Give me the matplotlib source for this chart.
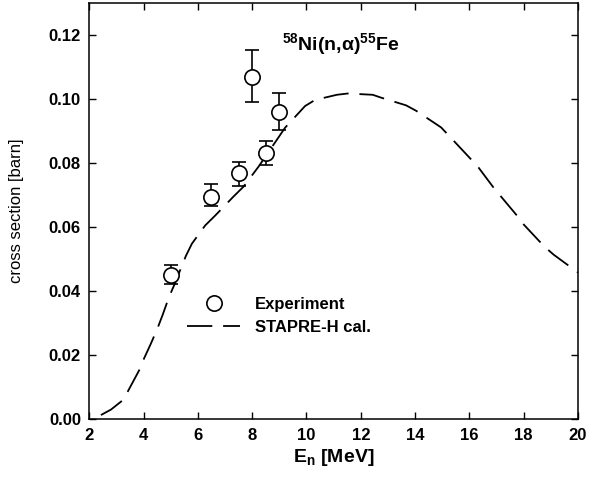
import matplotlib
matplotlib.use('Agg')
import matplotlib.pyplot as plt
from matplotlib.lines import Line2D
import numpy as np

plt.rcParams['font.family'] = ['Liberation Sans', 'DejaVu Sans']
plt.rcParams['mathtext.default'] = 'regular'

# experimental points
exp_e = [5.0, 6.5, 7.5, 8.0, 8.5, 9.0]
exp_xs = [0.0451, 0.0695, 0.0768, 0.1070, 0.0830, 0.0960]
exp_lo = [0.0422, 0.0665, 0.0728, 0.0991, 0.0794, 0.0903]
exp_hi = [0.0482, 0.0733, 0.0804, 0.1154, 0.0869, 0.1018]

# STAPRE-H calculation
calc_e = [2.43, 2.8, 3.23, 3.41, 3.84, 4.02, 4.27, 4.51, 4.70, 4.94, 5.13, 5.56,
          5.78, 6.27, 6.64, 7.31, 7.68, 8.23, 8.97, 9.21, 9.95, 10.32, 11.12,
          11.52, 12.44, 12.75, 13.67, 14.04, 14.96, 15.26, 16.0, 16.3, 16.9,
          17.77, 18.0, 18.75, 19.1, 20.0]
calc_xs = [0.0013, 0.0030, 0.0059, 0.0085, 0.0153, 0.0190, 0.0236, 0.0283, 0.0325,
           0.0382, 0.0419, 0.0510, 0.0548, 0.0605, 0.0636, 0.0695, 0.0726, 0.0788,
           0.0880, 0.0910, 0.0978, 0.0997, 0.1013, 0.1017, 0.1013, 0.1004, 0.0980,
           0.0963, 0.0911, 0.0884, 0.0817, 0.0790, 0.0722, 0.0634, 0.0608, 0.0540,
           0.0514, 0.0458]

fig = plt.figure(figsize=(5.91, 4.78), dpi=100)
ax = fig.add_axes([0.151, 0.123, 0.827, 0.871])

yerr = [np.array(exp_xs) - np.array(exp_lo), np.array(exp_hi) - np.array(exp_xs)]
ax.errorbar(exp_e, exp_xs, yerr=yerr, fmt='o', ms=11, mfc='white', mec='black',
            mew=1.2, ecolor='black', elinewidth=1.2, capsize=5, capthick=1.2,
            zorder=3)
ax.plot(calc_e, calc_xs, color='black', lw=1.3, dashes=(14, 6), zorder=2)

ax.set_xlim(2, 20)
ax.set_ylim(0, 0.13)
ax.set_xticks(np.arange(2, 21, 2))
ax.set_yticks(np.arange(0, 0.121, 0.02))
ax.set_yticklabels([f'{v:.2f}' for v in np.arange(0, 0.121, 0.02)])
ax.tick_params(direction='in', length=5, width=1, top=True, right=True,
               labelsize=12, pad=6)
for lab in ax.get_xticklabels() + ax.get_yticklabels():
    lab.set_fontweight('bold')
for s in ax.spines.values():
    s.set_linewidth(1.1)

ax.set_xlabel('E$_n$ [MeV]', fontsize=14, fontweight='bold', labelpad=3)
ax.set_ylabel('cross section [barn]', fontsize=12)
ax.yaxis.set_label_coords(-0.133, 0.5)

ax.text(9.1, 0.117, '$^{58}$Ni(n,$\\alpha$)$^{55}$Fe', fontsize=14,
        fontweight='bold', va='center', ha='left')

handles = [Line2D([], [], ls='none', marker='o', ms=11, mfc='white', mec='black', mew=1.2),
           Line2D([], [], color='black', lw=1.3, dashes=(14, 6))]
ax.legend(handles, ['Experiment', 'STAPRE-H cal.'], loc='upper left',
          bbox_to_anchor=(0.20, 0.293), frameon=False, borderpad=0,
          borderaxespad=0, prop={'weight': 'bold', 'size': 12},
          handlelength=3.2, handletextpad=0.9, labelspacing=0.45)

fig.savefig('out.png', dpi=100)
